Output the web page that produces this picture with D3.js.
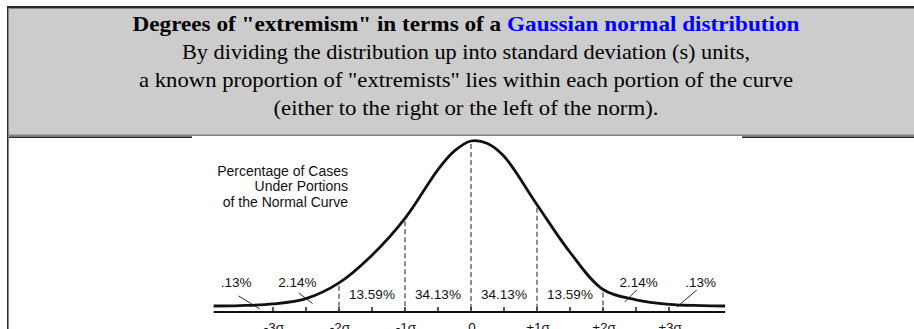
<!DOCTYPE html>
<html>
<head>
<meta charset="utf-8">
<script src="https://cdn.jsdelivr.net/npm/d3@7"></script>
<style>
  html, body { margin: 0; padding: 0; background: #fff; }
  svg { display: block; }
</style>
</head>
<body>
<script>
// ---- content -------------------------------------------------------------
const titleLead = 'Degrees of "extremism" in terms of a ';
const titleLink = 'Gaussian normal distribution';
const subtitleLines = [
  'By dividing the distribution up into standard deviation (s) units,',
  'a known proportion of "extremists" lies within each portion of the curve',
  '(either to the right or the left of the norm).'
];
const noteLines = ['Percentage of Cases', 'Under Portions', 'of the Normal Curve'];

// curve: height of the drawn curve (density) at each z position
const curveZ = [-3.9, -3.5, -3, -2.5, -2, -1.5, -1, -0.5, -0.25, 0, 0.25, 0.5, 1, 1.5, 2, 2.5, 3, 3.5, 3.85];
const curveDensity = [0, 0.001, 0.005, 0.018, 0.056, 0.123, 0.212, 0.330, 0.375, 0.399, 0.393, 0.362, 0.245, 0.130, 0.040, 0.015, 0.004, 0.001, 0];

// axis
const sigmaTicks = [-3, -2, -1, 0, 1, 2, 3];
const sigmaLabels = ['-3σ', '-2σ', '-1σ', '0', '+1σ', '+2σ', '+3σ'];
const halfTicks = [-3, -2.5, -2, -1.5, -1, -0.5, 0, 0.5, 1, 1.5, 2, 2.5, 3];
const dividerZ = [-2, -1, 0, 1, 2];

// proportions inside each band
const innerBandFrom = [-2, -1, 0, 1];
const innerBandTo = [-1, 0, 1, 2];
const innerBandLabels = ['13.59%', '34.13%', '34.13%', '13.59%'];
const tailBandFrom = [-4, -3, 2, 3];
const tailBandTo = [-3, -2, 3, 4];
const tailBandLabels = ['.13%', '2.14%', '2.14%', '.13%'];

// ---- drawing -------------------------------------------------------------
const W = 914, H = 329;
const svg = d3.select('body').append('svg').attr('width', W).attr('height', H);

// header panel
const dark = '#2b2b2b', mid = '#858585', fill = '#cccccc';
svg.append('rect').attr('x', 9).attr('y', 8).attr('width', W - 9).attr('height', 127).attr('fill', fill);
svg.append('rect').attr('x', 7).attr('y', 6).attr('width', W - 7).attr('height', 2).attr('fill', dark);
svg.append('rect').attr('x', 8).attr('y', 8).attr('width', W - 8).attr('height', 1).attr('fill', mid);
svg.append('rect').attr('x', 7).attr('y', 6).attr('width', 1).attr('height', H - 6).attr('fill', dark);
svg.append('rect').attr('x', 8).attr('y', 8).attr('width', 1).attr('height', H - 8).attr('fill', mid);
svg.append('rect').attr('x', 9).attr('y', 134.5).attr('width', W - 9).attr('height', 2).attr('fill', mid);
svg.append('rect').attr('x', 9).attr('y', 136.5).attr('width', W - 9).attr('height', 1.5).attr('fill', dark);

const cx = 466;
const serif = '"Liberation Serif", "Times New Roman", serif';
const title = svg.append('text')
  .attr('x', cx).attr('y', 31)
  .attr('text-anchor', 'middle')
  .attr('font-family', serif)
  .attr('font-size', 22).attr('font-weight', 'bold')
  .attr('textLength', 667).attr('lengthAdjust', 'spacingAndGlyphs');
title.append('tspan').attr('fill', '#000').text(titleLead);
title.append('tspan').attr('fill', '#0000ff').text(titleLink);

const subBase = [58.5, 86.5, 114.5];
const subWidth = [568, 654, 385];
svg.selectAll('text.sub').data(subtitleLines).join('text')
  .attr('class', 'sub')
  .attr('x', cx).attr('y', (d, i) => subBase[i])
  .attr('text-anchor', 'middle')
  .attr('font-family', serif)
  .attr('font-size', 22).attr('fill', '#000')
  .attr('textLength', (d, i) => subWidth[i]).attr('lengthAdjust', 'spacingAndGlyphs')
  .text(d => d);

// figure panel
svg.append('rect').attr('x', 192).attr('y', 136).attr('width', 550).attr('height', H - 136).attr('fill', '#fff');

const x = d3.scaleLinear().domain([-3, 3]).range([273, 669]);
const y = d3.scaleLinear().domain([0, 0.399]).range([306, 141]);
const axisY = 312;
const ink = '#111';
const sans = '"Liberation Sans", Arial, Helvetica, sans-serif';

const pts = curveZ.map((z, i) => [z, curveDensity[i]]);
const densityAt = z => curveDensity[curveZ.indexOf(z)];

// axis baseline and half-sigma ticks
svg.append('line')
  .attr('x1', x(-3.9)).attr('x2', x(3.85)).attr('y1', axisY).attr('y2', axisY)
  .attr('stroke', ink).attr('stroke-width', 2.2);
svg.selectAll('line.tick').data(halfTicks).join('line')
  .attr('class', 'tick')
  .attr('x1', d => x(d)).attr('x2', d => x(d))
  .attr('y1', axisY).attr('y2', axisY - 5)
  .attr('stroke', ink).attr('stroke-width', 1.4);

// dashed dividers from the curve down to the axis
svg.selectAll('line.div').data(dividerZ).join('line')
  .attr('class', 'div')
  .attr('x1', d => x(d)).attr('x2', d => x(d))
  .attr('y1', d => y(densityAt(d)) + 3).attr('y2', axisY)
  .attr('stroke', '#333').attr('stroke-width', 1.1)
  .attr('stroke-dasharray', '5,3');

// the curve
svg.append('path')
  .datum(pts)
  .attr('d', d3.line().x(d => x(d[0])).y(d => y(d[1])).curve(d3.curveCatmullRom.alpha(0.5)))
  .attr('fill', 'none').attr('stroke', ink).attr('stroke-width', 2.8)
  .attr('stroke-linejoin', 'round');

// inner band labels
svg.selectAll('text.band').data(innerBandLabels).join('text')
  .attr('class', 'band')
  .attr('x', (d, i) => x((innerBandFrom[i] + innerBandTo[i]) / 2))
  .attr('y', 299)
  .attr('text-anchor', 'middle')
  .attr('font-family', sans).attr('font-size', 13.5).attr('fill', ink)
  .text(d => d);

// tail labels with leader lines
const tailLabelZ = [-3.56, -2.63, 2.54, 3.48];
svg.selectAll('text.tail').data(tailBandLabels).join('text')
  .attr('class', 'tail')
  .attr('x', (d, i) => x(tailLabelZ[i]))
  .attr('y', 287)
  .attr('text-anchor', 'middle')
  .attr('font-family', sans).attr('font-size', 13.5).attr('fill', ink)
  .text(d => d);
const leaderStart = [[-3.52, 296], [-2.61, 293], [2.51, 290], [3.42, 290]];
const leaderEnd = [[-3.2, 309], [-2.4, 303.5], [2.33, 302], [3.12, 307]];
svg.selectAll('line.leader').data(tailBandLabels).join('line')
  .attr('class', 'leader')
  .attr('x1', (d, i) => x(leaderStart[i][0])).attr('y1', (d, i) => leaderStart[i][1])
  .attr('x2', (d, i) => x(leaderEnd[i][0])).attr('y2', (d, i) => leaderEnd[i][1])
  .attr('stroke', ink).attr('stroke-width', 0.9);

// sigma labels under the axis
svg.selectAll('text.sigma').data(sigmaLabels).join('text')
  .attr('class', 'sigma')
  .attr('x', (d, i) => x(sigmaTicks[i]) + 1)
  .attr('y', 331.5)
  .attr('text-anchor', 'middle')
  .attr('font-family', sans).attr('font-size', 13.5).attr('fill', ink)
  .text(d => d);

// note in the upper left of the figure
svg.selectAll('text.note').data(noteLines).join('text')
  .attr('class', 'note')
  .attr('x', 348)
  .attr('y', (d, i) => 175.5 + i * 15.7)
  .attr('text-anchor', 'end')
  .attr('font-family', sans).attr('font-size', 14).attr('fill', ink)
  .text(d => d);
</script>
</body>
</html>
